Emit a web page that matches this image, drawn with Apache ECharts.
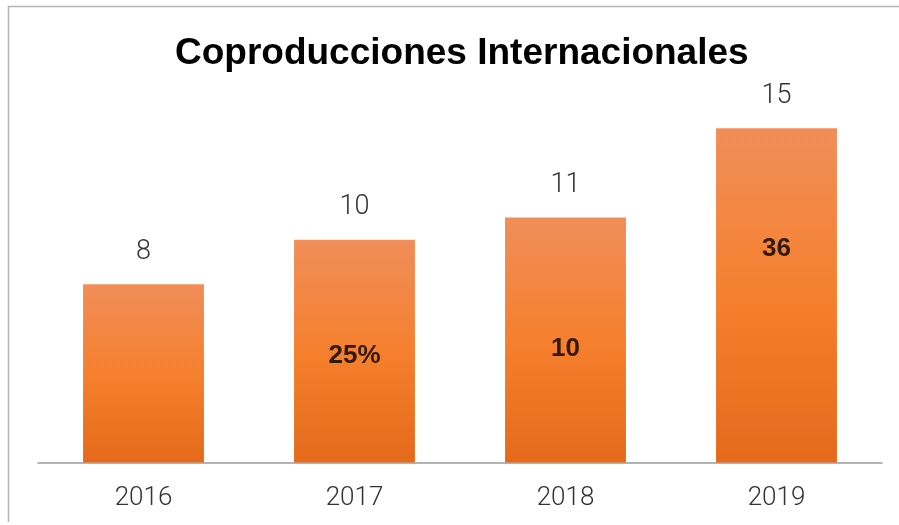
<!DOCTYPE html>
<html>
<head>
<meta charset="utf-8">
<script src="https://cdn.jsdelivr.net/npm/echarts@6/dist/echarts.min.js"></script>
<style>
html,body{margin:0;padding:0;background:#fff;}
#c{width:899px;height:525px;}
</style>
</head>
<body>
<div id="c"></div>
<script>
const categories = ['2016', '2017', '2018', '2019'];
const values = [8, 10, 11, 15];
const innerLabels = ['', '25%', '10', '36'];
const innerLabelLevels = [null, 4.8, 5.1, 9.6];
const titleText = 'Coproducciones Internacionales';

const chart = echarts.init(document.getElementById('c'));
chart.setOption({
  backgroundColor: '#fff',
  animation: false,
  title: {
    text: titleText,
    left: 170,
    top: 30,
    textStyle: {fontFamily: 'Liberation Sans, Arial, sans-serif', fontWeight: 'bold', fontSize: 37, color: '#000'}
  },
  graphic: [
    {type: 'line', shape: {x1: 8, y1: 6.5, x2: 899, y2: 6.5}, style: {stroke: '#b5b5b5', lineWidth: 1.5}},
    {type: 'line', shape: {x1: 8.5, y1: 6, x2: 8.5, y2: 522}, style: {stroke: '#b5b5b5', lineWidth: 1.5}}
  ],
  grid: {left: 38, right: 17, top: 106, bottom: 62.5},
  xAxis: {
    type: 'category',
    data: categories,
    axisLine: {lineStyle: {color: '#9a9a9a', width: 1.5}},
    axisTick: {show: false},
    axisLabel: {fontFamily: 'Roboto, Helvetica, sans-serif', fontWeight: 300, fontSize: 26, color: '#333', margin: 23}
  },
  yAxis: {
    type: 'value', min: 0, max: 16, show: false, splitLine: {show: false}
  },
  series: [
    {
      type: 'bar',
      data: values,
      barWidth: '57.3%',
      itemStyle: {
        color: new echarts.graphic.LinearGradient(0, 0, 0, 1, [
          {offset: 0, color: '#f08e59'},
          {offset: 0.5, color: '#f5802e'},
          {offset: 1, color: '#e46a1a'}
        ])
      },
      label: {
        show: true, position: 'top', distance: 19,
        fontFamily: 'Roboto, Helvetica, sans-serif', fontWeight: 300, fontSize: 27, color: '#333'
      }
    },
    {
      type: 'scatter',
      data: innerLabelLevels,
      symbolSize: 0,
      silent: true,
      label: {
        show: true, position: 'inside',
        formatter: p => innerLabels[p.dataIndex],
        fontFamily: 'Liberation Sans, Arial, sans-serif', fontWeight: 'bold', fontSize: 26, color: '#000'
      },
      z: 5
    }
  ]
});
</script>
</body>
</html>
